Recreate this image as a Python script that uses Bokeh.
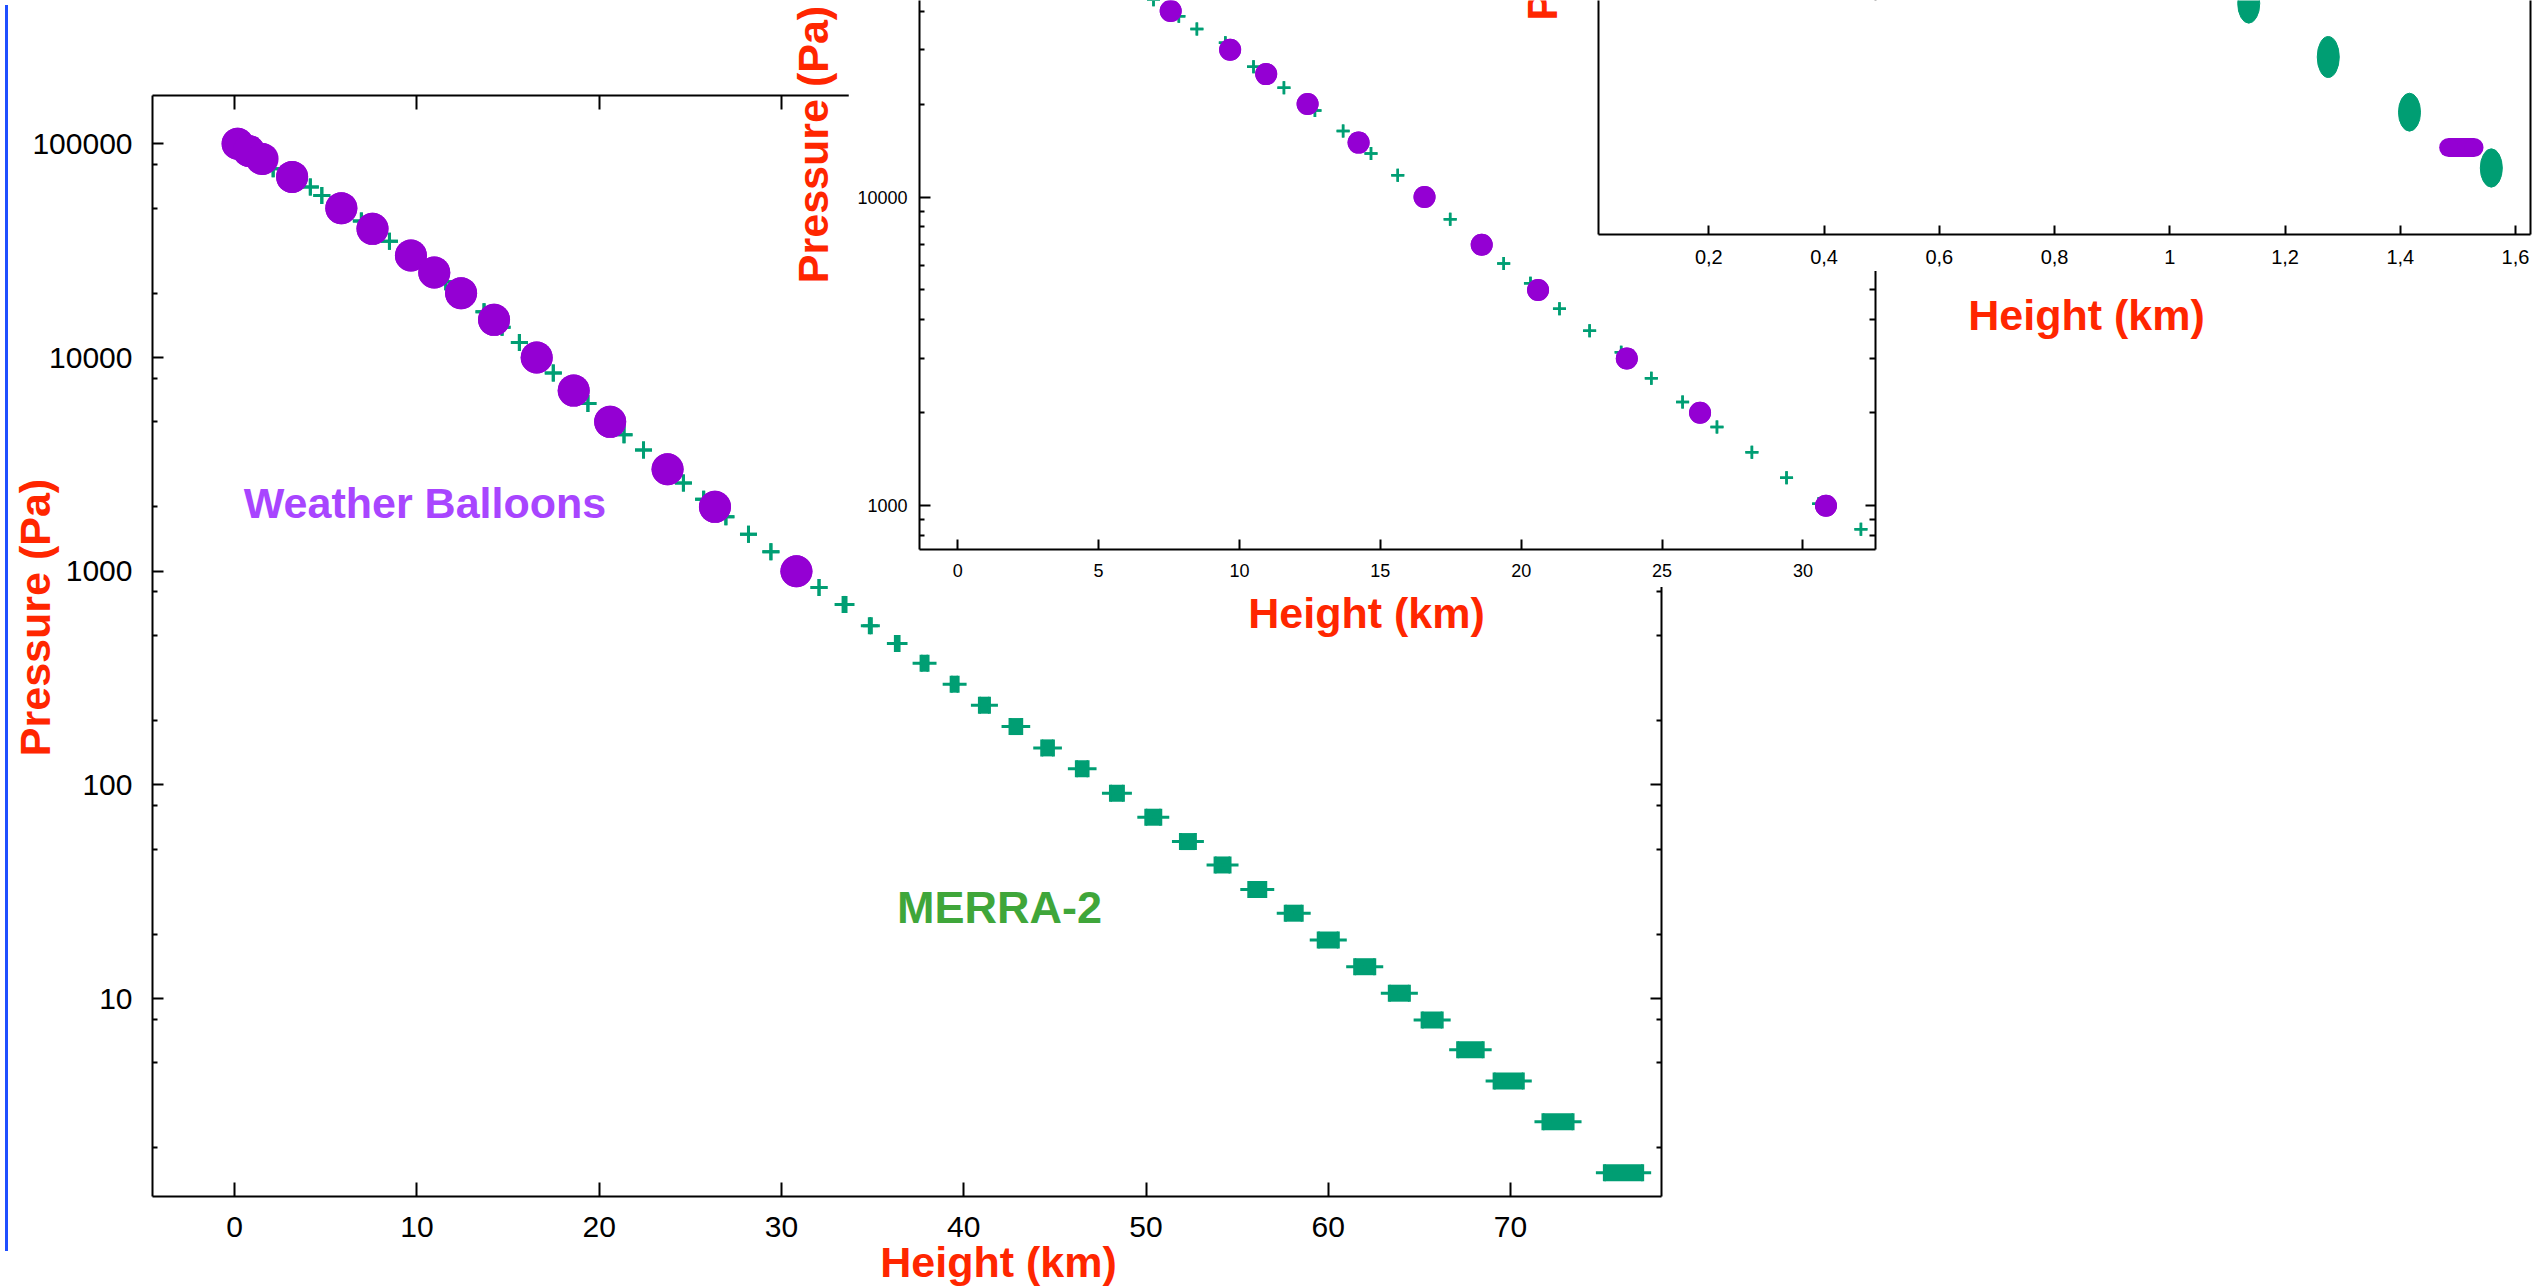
import math
from bokeh.plotting import figure
from bokeh.models import (Range1d, LinearAxis, LogAxis, FixedTicker, Label, Div,
                          PrintfTickFormatter, CustomJSTickFormatter)
from bokeh.embed import file_html
from bokeh.resources import INLINE

# ---------------- data ----------------
# Weather balloon (radiosonde) mandatory levels
balloon_pressure_pa = [100000, 92500, 85000, 70000, 50000, 40000, 30000, 25000,
                       20000, 15000, 10000, 7000, 5000, 3000, 2000, 1000]
balloon_height_lo_km = [0.16, 0.78, 1.484, 3.15, 5.85, 7.56, 9.67, 10.95,
                        12.42, 14.23, 16.57, 18.6, 20.6, 23.75, 26.35, 30.82]
balloon_height_hi_km = [0.16, 0.78, 1.528, 3.15, 5.85, 7.56, 9.67, 10.95,
                        12.42, 14.23, 16.57, 18.6, 20.6, 23.75, 26.35, 30.82]

# MERRA-2 levels (height range of the samples at each level)
merra_pressure_pa = [88600, 87260, 85880, 84490, 76400, 62700, 57300, 43500,
                     38500, 35000, 31600, 26400, 22600, 19050, 16360, 13840,
                     11760, 8470, 6090, 5260, 4350, 3690, 3140, 2590,
                     2170, 1800, 1490, 1233, 1016, 840, 699, 556,
                     459, 371, 296, 236, 187.5, 149, 119, 91.4,
                     70.6, 54.3, 42.2, 32.4, 25.1, 18.8, 14.1, 10.6,
                     7.94, 5.77, 4.11, 2.65, 1.53]
merra_height_lo_km = [1.137, 1.275, 1.416, 1.558, 2.11, 4.15, 4.78, 6.95,
                      7.85, 8.49, 9.5, 10.5, 11.58, 12.68, 13.68, 14.67,
                      15.62, 17.48, 19.38, 20.33, 21.36, 22.43, 23.55, 24.62,
                      25.73, 26.95, 28.19, 29.42, 30.56, 32.06, 33.38, 34.82,
                      36.25, 37.66, 39.31, 40.86, 42.54, 44.28, 46.18, 48.05,
                      49.99, 51.89, 53.79, 55.64, 57.64, 59.45, 61.45, 63.35,
                      65.15, 67.1, 69.1, 71.78, 75.15]
merra_height_hi_km = [1.137, 1.275, 1.416, 1.558, 2.11, 4.15, 4.78, 6.95,
                      7.85, 8.49, 9.5, 10.5, 11.58, 12.68, 13.68, 14.67,
                      15.62, 17.48, 19.38, 20.33, 21.36, 22.43, 23.55, 24.62,
                      25.73, 26.95, 28.19, 29.42, 30.56, 32.06, 33.54, 34.93,
                      36.45, 38.04, 39.69, 41.41, 43.18, 44.92, 46.82, 48.76,
                      50.81, 52.71, 54.61, 56.57, 58.57, 60.55, 62.55, 64.45,
                      66.25, 68.5, 70.7, 73.43, 77.25]

# near-surface MERRA-2 detail (pressure spread of the samples)
surface_merra_height_km = [1.137, 1.275, 1.416, 1.558]
surface_merra_p_top_pa = [89100, 87775, 86358, 84967]
surface_merra_p_bottom_pa = [88108, 86750, 85408, 84008]

# tick labels
main_x_ticks = [0, 10, 20, 30, 40, 50, 60, 70]
main_y_ticks = [10, 100, 1000, 10000, 100000]
main_y_minor = [2, 5, 8, 20, 50, 80, 200, 500, 800, 2000, 5000, 8000, 20000, 50000, 80000]
inset1_x_ticks = [0, 5, 10, 15, 20, 25, 30]
inset1_y_ticks = [1000, 10000]
inset1_y_minor = [700, 800, 900, 2000, 3000, 4000, 5000, 6000, 7000, 8000, 9000,
                  20000, 30000, 40000]
inset2_x_ticks = [0.2, 0.4, 0.6, 0.8, 1.0, 1.2, 1.4, 1.6]

GREEN = "#009e73"
PURPLE = "#9400d3"
RED = "#ff2600"
LABEL_PURPLE = "#a845ff"
LABEL_GREEN = "#3fa63a"
FONT = "Liberation Sans"
W, H = 2539, 1286


def placed(left, top, z):
    return {"position": "absolute", "left": f"{left}px", "top": f"{top}px",
            "z-index": str(z)}


def style_axis(ax, ticks, minor, tick_len, minor_len, font_px, standoff, show, fmt=None):
    ax.ticker = FixedTicker(ticks=ticks, minor_ticks=minor)
    ax.major_tick_in = tick_len
    ax.major_tick_out = 0
    ax.minor_tick_in = minor_len
    ax.minor_tick_out = 0
    ax.axis_line_width = 2
    ax.axis_line_color = "black"
    ax.major_tick_line_width = 2
    ax.minor_tick_line_width = 2
    ax.major_tick_line_color = "black"
    ax.minor_tick_line_color = "black"
    ax.major_label_text_font = FONT
    ax.major_label_text_font_size = f"{font_px}px"
    ax.major_label_standoff = standoff
    ax.major_label_text_color = "black" if show else None
    if fmt is not None:
        ax.formatter = fmt


def make_fig(canvas, frame, xr, yr, ylog, z):
    cl, ct, cr, cb = canvas
    fl, ft, fr, fb = frame
    p = figure(width=cr - cl, height=cb - ct,
               x_range=Range1d(*xr), y_range=Range1d(*yr),
               y_axis_type="log" if ylog else "linear",
               output_backend="svg", toolbar_location=None,
               min_border_left=fl - cl, min_border_right=cr - fr,
               min_border_top=ft - ct, min_border_bottom=cb - fb,
               background_fill_color="white", border_fill_color="white",
               outline_line_color=None, styles=placed(cl, ct, z))
    p.grid.grid_line_color = None
    return p


def draw_ranges(p, lo, hi, yv, marker, size, lw, color, fill):
    mid = [(a + b) / 2 for a, b in zip(lo, hi)]
    wid = [b - a for a, b in zip(lo, hi)]
    p.rect(x=mid, y=yv, width=wid, height=size, height_units="screen",
           fill_color=color, line_color=None)
    for xs in (lo, hi):
        if fill:
            p.scatter(x=xs, y=yv, marker=marker, size=size, fill_color=color,
                      line_color=None)
        else:
            p.scatter(x=xs, y=yv, marker=marker, size=size, line_color=color,
                      line_width=lw)


# ---------------- main plot ----------------
M_X0, M_KX = 234.2, 18.226      # px of 0 km, px per km
M_Y5, M_DEC = 143.3, 213.7      # px of 1e5 Pa, px per decade


def mx(px):
    return (px - M_X0) / M_KX


def my(py):
    return 10 ** (5 - (py - M_Y5) / M_DEC)


main = make_fig((0, 0, W, H), (152, 95, 1661, 1196),
                (mx(152), mx(1661)), (my(1196), my(95)), True, 1)
style_axis(main.xaxis[0], main_x_ticks, [], 14, 0, 30, 20, True)
style_axis(main.yaxis[0], main_y_ticks, main_y_minor, 11, 5, 30, 20, True,
           PrintfTickFormatter(format="%d"))
top_ax = LinearAxis()
style_axis(top_ax, main_x_ticks, [], 14, 0, 28, 5, False)
main.add_layout(top_ax, "above")
right_ax = LogAxis()
style_axis(right_ax, main_y_ticks, main_y_minor, 11, 5, 28, 5, False,
           PrintfTickFormatter(format="%d"))
main.add_layout(right_ax, "right")

draw_ranges(main, merra_height_lo_km, merra_height_hi_km, merra_pressure_pa,
            "cross", 17, 3, GREEN, False)
draw_ranges(main, balloon_height_lo_km, balloon_height_hi_km, balloon_pressure_pa,
            "circle", 32, 0, PURPLE, True)

# ---------------- inset 1 (0-32 km) ----------------
I1_X0, I1_KX = 957.2, 28.173
I1_Y4, I1_DEC = 196.5, 308.8


def i1x(px):
    return (px - I1_X0) / I1_KX


def i1y(py):
    return 10 ** (4 - (py - I1_Y4) / I1_DEC)


ins1 = make_fig((848, 0, 1960, 587), (919, 0, 1875, 549),
                (i1x(919), i1x(1875)), (i1y(549), i1y(0)), True, 2)
style_axis(ins1.xaxis[0], inset1_x_ticks, [], 10, 0, 18, 14, True)
style_axis(ins1.yaxis[0], inset1_y_ticks, inset1_y_minor, 11, 5, 18, 12, True,
           PrintfTickFormatter(format="%d"))
r1 = LogAxis()
style_axis(r1, inset1_y_ticks, inset1_y_minor, 10, 6, 18, 0, False,
           PrintfTickFormatter(format="%d"))
ins1.add_layout(r1, "right")
draw_ranges(ins1, merra_height_lo_km, merra_height_hi_km, merra_pressure_pa,
            "cross", 13, 2.5, GREEN, False)
draw_ranges(ins1, balloon_height_lo_km, balloon_height_hi_km, balloon_pressure_pa,
            "circle", 22, 0, PURPLE, True)

# ---------------- inset 2 (0-1.6 km) ----------------
I2_X0, I2_KX = 1593.1, 576.2
I2_P0, I2_KP = 88675.0, 25.0    # Pa at top edge, Pa per px


def i2x(px):
    return (px - I2_X0) / I2_KX


def i2y(py):
    return I2_P0 - I2_KP * py


ins2 = make_fig((1515, 0, W, 271), (1598, 0, 2530, 234),
                (i2x(1598), i2x(2530)), (i2y(234), i2y(0)), False, 3)
style_axis(ins2.xaxis[0], inset2_x_ticks, [], 9, 0, 20, 15, True,
           CustomJSTickFormatter(code="return String(tick).replace('.', ',');"))
style_axis(ins2.yaxis[0], [], [], 10, 5, 17, 5, False)
r2 = LinearAxis()
style_axis(r2, [], [], 10, 5, 17, 5, False)
ins2.add_layout(r2, "right")
ins2.ellipse(x=surface_merra_height_km,
             y=[(a + b) / 2 for a, b in zip(surface_merra_p_top_pa, surface_merra_p_bottom_pa)],
             width=22, width_units="screen",
             height=[a - b for a, b in zip(surface_merra_p_top_pa, surface_merra_p_bottom_pa)],
             height_units="data", fill_color=GREEN, line_color=GREEN, line_width=1)
draw_ranges(ins2, balloon_height_lo_km, balloon_height_hi_km, balloon_pressure_pa,
            "circle", 19, 0, PURPLE, True)

# ---------------- text boxes laid over the slide ----------------
ov = figure(width=W, height=H, x_range=Range1d(0, W), y_range=Range1d(H, 0),
            output_backend="svg", toolbar_location=None, min_border=0,
            x_axis_location=None, y_axis_location=None,
            background_fill_color=None, border_fill_color=None,
            outline_line_color=None, styles=placed(0, 0, 5))
ov.grid.grid_line_color = None


def add_label(text, x, y, color, size, angle=0.0, align="center"):
    ov.add_layout(Label(x=x, y=y, text=text, text_color=color, text_font=FONT,
                        text_font_size=f"{size}px", text_font_style="bold",
                        angle=angle, text_align=align, text_baseline="alphabetic"))


add_label("Pressure (Pa)", 34, 617, RED, 43, math.pi / 2)
add_label("Height (km)", 998, 1261, RED, 43)
add_label("Pressure (Pa)", 812, 144, RED, 43, math.pi / 2)
add_label("Height (km)", 1366, 612, RED, 43)
add_label("Height (km)", 2086, 314, RED, 43)
add_label("Pressure (Pa)", 1541, 20, RED, 43, math.pi / 2, "left")
add_label("Weather Balloons", 424.5, 502, LABEL_PURPLE, 43)
add_label("MERRA-2", 999, 907, LABEL_GREEN, 45)

# blue slide edge
edge = Div(width=3, height=1246,
           styles={"position": "absolute", "left": "0px", "top": "0px",
                   "background-color": "#1f4fff", "z-index": "6"})

open("out.html", "w").write(file_html([main, ins1, ins2, ov, edge], INLINE))
